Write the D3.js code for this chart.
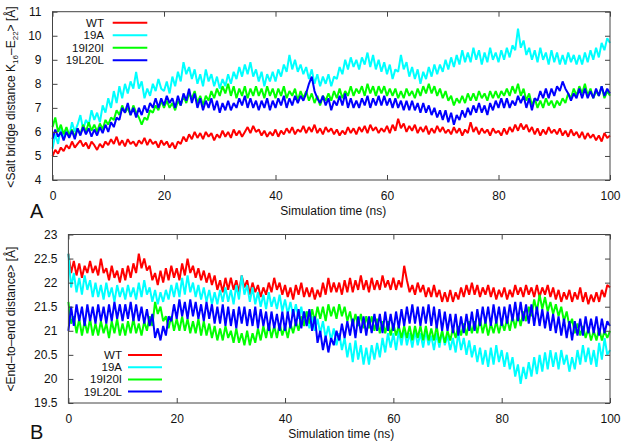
<!DOCTYPE html>
<html><head><meta charset="utf-8">
<script src="https://cdn.jsdelivr.net/npm/d3@7/dist/d3.min.js"></script>
<style>body{margin:0;background:#fff}svg{display:block;font-family:"Liberation Sans",Arial,sans-serif}</style>
</head><body><svg id="c" width="622" height="442"></svg>
<script>
const seriesNames = ["WT","19A","19I20I","19L20L"];
const seriesColors = ["#ff0000","#00ffff","#00ff00","#0000ff"];
const timeNs = d3.range(201).map(i => i / 2);
const xTicks = [0,20,40,60,80,100];
const yTicksA = [4,5,6,7,8,9,10,11];
const yTicksB = [19.5,20,20.5,21,21.5,22,22.5,23];

const saltWT = [5.0,5.25,5.1,5.35,5.2,5.45,5.3,5.6,5.35,5.5,
5.65,5.4,5.55,5.3,5.6,5.45,5.25,5.5,5.35,5.6,
5.45,5.7,5.5,5.8,5.45,5.65,5.4,5.7,5.5,5.6,
5.4,5.65,5.5,5.75,5.45,5.7,5.5,5.6,5.35,5.65,
5.45,5.6,5.35,5.55,5.3,5.6,5.5,5.8,5.6,5.9,
5.7,6.0,5.75,5.95,5.7,6.0,5.8,5.95,5.65,5.9,
5.75,6.05,5.8,6.0,5.75,6.1,5.85,6.05,5.8,6.0,
6.2,5.95,6.25,6.0,6.1,5.85,6.05,5.8,6.0,5.85,
6.1,5.8,6.05,5.9,6.15,5.95,6.2,5.9,6.1,6.0,
6.25,5.95,6.2,6.0,6.3,5.95,6.15,5.9,6.2,6.0,
6.15,5.9,6.1,5.85,6.05,5.9,6.2,5.95,6.15,5.9,
6.2,6.0,6.25,5.95,6.3,6.05,6.2,5.95,6.15,6.0,
6.25,5.95,6.3,6.05,6.55,6.15,6.35,6.0,6.25,6.05,
6.3,5.95,6.2,6.0,6.25,5.9,6.15,5.95,6.25,6.0,
6.2,5.95,6.1,5.9,6.2,5.95,6.15,5.85,6.1,5.95,
6.4,6.0,6.2,5.9,6.15,5.95,6.1,5.85,6.15,5.95,
6.05,5.85,6.15,5.9,6.2,6.0,6.3,6.05,6.35,6.1,
6.3,6.0,6.2,5.9,6.15,5.85,6.1,5.9,6.2,5.95,
6.1,5.9,6.15,5.85,6.05,5.8,6.1,5.85,6.0,5.75,
6.0,5.7,5.95,5.75,5.9,5.65,5.85,5.6,5.95,5.75,5.85];
const salt19A = [5.3,5.9,5.5,6.2,5.7,6.1,5.8,6.4,6.0,6.3,
6.7,6.1,6.5,6.3,6.9,6.5,6.8,6.4,7.1,6.8,
7.4,7.0,7.7,7.2,7.9,7.4,8.0,7.6,8.1,7.8,
8.5,7.8,8.1,7.4,7.8,7.5,8.0,7.7,8.2,7.8,
7.7,8.1,7.6,8.3,7.9,8.5,8.1,8.9,8.4,8.7,
8.2,8.6,8.0,8.4,7.9,8.6,8.1,8.4,7.9,8.3,
7.8,8.2,7.9,8.4,8.0,8.5,8.2,8.7,8.3,8.8,
8.4,8.9,8.3,8.6,8.1,8.5,7.9,8.4,8.1,8.5,
8.1,8.6,8.3,8.8,8.5,9.2,8.6,9.0,8.5,8.8,
8.4,8.7,8.2,8.6,8.0,8.4,7.9,8.3,8.0,8.4,
7.9,8.3,8.2,8.7,8.4,9.0,8.6,9.1,8.7,9.0,
8.6,9.1,8.8,9.3,8.7,9.2,8.6,9.0,8.5,8.9,
8.4,8.8,8.2,8.6,8.5,9.2,8.6,8.9,8.3,8.7,
8.2,8.6,8.0,8.5,8.2,8.7,8.3,8.8,8.4,8.8,
8.5,9.0,8.6,9.1,8.7,9.2,8.8,9.4,8.9,9.3,
8.9,9.5,9.0,9.4,8.8,9.3,8.9,9.5,9.0,9.3,
8.9,9.4,9.0,9.5,9.1,9.6,9.4,10.3,9.5,9.8,
9.2,9.5,9.0,9.4,8.9,9.5,9.0,9.3,8.8,9.4,
8.9,9.3,8.8,9.2,8.8,9.3,8.9,9.2,8.8,9.2,
8.8,9.3,8.9,9.4,9.0,9.5,9.1,9.7,9.4,9.9,9.7];
const salt19I20I = [6.2,6.6,6.0,6.3,5.9,6.2,5.85,6.1,5.8,6.15,
5.9,6.3,6.0,6.4,6.05,6.3,6.0,6.35,6.1,6.5,
6.3,6.6,6.5,6.9,6.7,7.1,6.8,7.0,6.7,7.1,
6.8,6.6,6.3,6.6,6.5,6.9,6.8,7.1,6.9,7.3,
7.0,7.3,7.0,7.2,6.9,7.3,7.1,7.5,7.2,7.6,
7.4,7.7,7.2,7.5,7.1,7.5,7.3,7.7,7.4,7.8,
7.5,7.9,7.6,8.0,7.5,7.9,7.4,7.8,7.5,7.9,
7.4,7.8,7.5,7.9,7.5,7.8,7.4,7.9,7.5,7.8,
7.4,7.8,7.5,7.9,7.4,7.7,7.5,7.8,7.3,7.7,
7.4,7.7,7.3,7.6,7.2,7.5,7.1,7.5,7.3,7.6,
7.3,7.7,7.4,7.8,7.4,7.7,7.5,7.9,7.5,7.8,
7.6,7.9,7.5,8.0,7.6,7.9,7.5,7.9,7.6,7.9,
7.5,7.8,7.5,7.8,7.4,7.7,7.4,7.8,7.5,7.7,
7.4,7.8,7.5,7.9,7.6,8.0,7.6,7.9,7.5,7.8,
7.4,7.7,7.3,7.5,7.1,7.4,7.2,7.5,7.2,7.6,
7.3,7.6,7.3,7.7,7.4,7.6,7.3,7.7,7.4,7.7,
7.4,7.7,7.5,7.8,7.5,7.9,7.6,8.0,7.5,7.8,
7.3,7.6,7.1,7.4,7.0,7.3,7.0,7.4,7.1,7.3,
7.0,7.3,7.1,7.4,7.2,7.6,7.4,7.8,7.5,7.9,
7.6,8.0,7.5,7.8,7.4,7.7,7.5,7.9,7.4,7.7,7.5];
const salt19L20L = [5.7,6.1,5.8,6.0,5.65,6.0,5.75,6.05,5.7,6.15,
5.85,6.2,5.9,6.15,5.8,6.1,5.85,6.2,5.95,6.3,
6.0,6.4,6.2,6.6,6.5,7.0,6.8,7.2,6.7,7.0,
6.6,7.0,6.7,7.1,6.8,7.2,7.0,7.4,7.0,7.4,
7.1,7.5,7.2,7.4,7.0,7.5,7.1,7.6,7.3,7.8,
7.2,7.6,7.0,7.4,6.9,7.3,7.0,7.4,6.9,7.3,
6.8,7.2,6.9,7.3,6.9,7.2,7.0,7.4,7.1,7.5,
7.0,7.4,7.0,7.3,6.9,7.3,7.0,7.4,6.9,7.3,
7.0,7.4,7.1,7.5,7.0,7.4,7.1,7.5,7.2,7.5,
7.3,7.6,8.0,8.3,7.7,7.4,7.2,7.5,7.1,7.4,
6.9,7.3,7.1,7.5,7.1,7.6,7.0,7.4,7.0,7.3,
7.0,7.4,7.1,7.5,7.0,7.4,7.1,7.5,7.1,7.5,
7.1,7.4,7.0,7.4,7.0,7.3,6.9,7.3,6.9,7.3,
6.9,7.2,6.8,7.2,6.8,7.1,6.7,7.0,6.6,6.9,
6.5,6.9,6.4,6.8,6.3,6.7,6.5,6.9,6.6,7.0,
6.7,7.1,6.8,7.2,6.8,7.1,6.7,7.2,6.9,7.3,
7.0,7.4,7.0,7.4,7.0,7.3,7.1,7.5,7.2,7.5,
7.0,7.4,6.9,7.4,7.3,7.7,7.4,7.8,7.4,7.8,
7.5,7.9,7.7,8.1,7.8,7.6,7.3,7.6,7.4,7.8,
7.4,7.8,7.4,7.7,7.4,7.8,7.5,7.9,7.5,7.8,7.6];

const endWT = [22.6,22.2,22.45,22.15,22.4,22.1,22.35,22.2,22.45,22.2,
22.35,22.15,22.5,22.2,22.3,22.05,22.35,22.1,22.25,22.0,
22.3,22.05,22.35,22.1,22.4,22.2,22.6,22.3,22.5,22.25,
22.35,22.05,22.2,21.95,22.25,22.0,22.3,22.05,22.35,22.1,
22.3,22.05,22.4,22.15,22.5,22.2,22.35,22.1,22.3,22.05,
22.25,22.0,22.2,21.95,22.15,21.85,22.05,21.8,22.1,21.85,
22.1,21.85,22.05,21.8,22.15,21.9,22.05,21.75,22.0,21.8,
21.95,21.7,21.9,21.75,22.0,21.8,22.1,21.85,22.0,21.75,
21.95,21.7,21.9,21.65,21.95,21.75,22.0,21.7,21.9,21.7,
21.9,21.65,21.85,21.7,22.0,21.75,22.1,21.8,22.0,21.8,
22.0,21.75,22.05,21.8,22.1,21.8,22.05,21.85,22.15,21.85,
22.05,21.8,22.1,21.85,22.05,21.85,22.15,21.9,22.05,21.85,
22.1,21.85,22.05,21.9,22.35,22.05,21.8,21.95,21.75,22.0,
21.8,21.95,21.7,21.9,21.7,21.95,21.7,21.85,21.6,21.8,
21.6,21.85,21.6,21.8,21.65,21.9,21.7,21.95,21.75,22.0,
21.75,21.95,21.7,21.9,21.75,21.95,21.7,21.9,21.65,21.85,
21.7,21.9,21.65,21.85,21.7,21.95,21.75,21.9,21.7,21.95,
21.75,21.9,21.7,21.95,21.7,21.9,21.75,21.95,21.7,21.9,
21.65,21.85,21.6,21.8,21.65,21.85,21.6,21.8,21.65,21.9,
21.6,21.8,21.55,21.75,21.6,21.8,21.6,21.85,21.7,21.95,21.9];
const end19A = [22.6,21.9,22.2,21.8,22.1,21.75,22.15,21.85,22.05,21.7,
22.0,21.7,21.95,21.65,22.0,21.7,21.9,21.6,21.95,21.7,
21.9,21.65,21.95,21.7,21.9,21.65,22.0,21.7,22.05,21.75,
21.9,21.6,21.85,21.55,21.8,21.6,21.85,21.65,21.95,21.7,
22.0,21.7,22.1,21.75,22.15,21.8,22.0,21.7,21.95,21.65,
21.9,21.6,21.85,21.55,21.8,21.55,21.85,21.6,21.9,21.6,
21.85,21.55,21.95,21.65,22.15,21.75,21.95,21.6,21.9,21.55,
21.8,21.5,21.75,21.45,21.8,21.5,21.7,21.45,21.75,21.4,
21.65,21.35,21.6,21.3,21.55,21.25,21.5,21.15,21.4,21.05,
21.3,21.0,21.25,20.95,21.2,20.85,21.1,20.8,21.05,20.7,
20.95,20.6,20.85,20.45,20.75,20.35,20.8,20.4,20.7,20.3,
20.65,20.3,20.7,20.4,20.75,20.45,20.85,20.55,20.95,20.65,
20.95,20.6,21.0,20.7,21.05,20.7,20.95,20.65,21.0,20.7,
20.95,20.65,21.0,20.7,20.9,20.6,20.95,20.65,21.0,20.7,
20.9,20.6,20.85,20.55,20.95,20.6,20.85,20.5,20.8,20.45,
20.7,20.35,20.65,20.3,20.6,20.25,20.65,20.3,20.7,20.35,
20.6,20.25,20.55,20.2,20.45,20.05,20.3,19.9,20.25,20.0,
20.35,20.05,20.45,20.1,20.5,20.15,20.55,20.2,20.6,20.25,
20.55,20.2,20.6,20.3,20.5,20.15,20.45,20.2,20.6,20.3,
20.7,20.35,20.65,20.3,20.6,20.25,20.75,20.4,20.85,20.5,20.6];
const end19I20I = [21.6,21.15,21.3,20.95,21.25,20.9,21.2,20.95,21.25,20.9,
21.15,20.9,21.2,20.95,21.15,20.85,21.2,20.95,21.25,20.9,
21.15,20.9,21.2,20.95,21.25,20.95,21.15,20.9,21.2,21.0,
21.3,21.1,21.6,21.35,21.5,21.2,21.3,21.05,21.3,21.0,
21.25,21.0,21.3,21.0,21.25,20.95,21.2,20.95,21.25,20.9,
21.2,20.9,21.15,20.85,21.1,20.8,21.05,20.8,21.1,20.85,
21.0,20.75,21.05,20.75,20.95,20.7,21.0,20.7,20.95,20.75,
21.05,20.8,21.1,20.85,21.15,20.85,21.1,20.85,21.15,20.9,
21.1,20.85,21.15,20.95,21.2,21.0,21.3,21.1,21.4,21.15,
21.45,21.2,21.5,21.25,21.5,21.2,21.55,21.3,21.5,21.25,
21.55,21.3,21.5,21.2,21.4,21.1,21.35,21.1,21.35,21.05,
21.3,21.05,21.3,21.0,21.25,20.95,21.2,20.95,21.2,20.9,
21.15,20.9,21.1,20.85,21.1,20.85,21.1,20.8,21.1,20.85,
21.1,20.8,21.1,20.8,21.05,20.8,21.1,20.75,21.0,20.75,
21.0,20.8,21.05,20.85,21.1,20.9,21.15,20.9,21.2,20.95,
21.2,20.95,21.25,20.95,21.2,20.9,21.15,20.95,21.2,20.95,
21.2,21.0,21.25,21.0,21.3,21.05,21.35,21.1,21.4,21.2,
21.5,21.3,21.65,21.4,21.75,21.45,21.7,21.4,21.6,21.35,
21.55,21.3,21.5,21.2,21.4,21.1,21.25,20.95,21.15,20.9,
21.1,20.85,21.05,20.8,21.0,20.8,21.05,20.8,21.0,20.85,21.0];
const end19L20L = [21.0,21.5,21.1,21.55,21.2,21.5,21.1,21.55,21.2,21.5,
21.15,21.55,21.2,21.5,21.15,21.55,21.2,21.6,21.25,21.55,
21.2,21.55,21.25,21.6,21.2,21.55,21.2,21.5,21.15,21.45,
21.1,21.35,20.85,21.05,20.8,21.1,20.9,21.3,21.2,21.55,
21.25,21.65,21.3,21.6,21.25,21.65,21.3,21.6,21.25,21.55,
21.2,21.6,21.25,21.55,21.15,21.5,21.15,21.55,21.1,21.5,
21.1,21.45,21.05,21.5,21.15,21.5,21.1,21.45,21.1,21.5,
21.05,21.45,21.1,21.4,21.0,21.4,21.05,21.35,21.0,21.4,
21.0,21.4,21.05,21.45,21.1,21.45,21.05,21.4,21.1,21.45,
21.0,21.3,20.75,21.0,20.6,20.9,20.55,20.85,20.7,21.0,
20.8,21.15,20.85,21.2,20.9,21.25,20.85,21.3,20.95,21.3,
20.9,21.3,20.95,21.35,21.0,21.35,20.95,21.4,21.0,21.35,
21.0,21.4,21.05,21.45,21.1,21.5,21.15,21.55,21.15,21.5,
21.1,21.5,21.15,21.55,21.1,21.5,21.05,21.45,21.0,21.4,
21.0,21.35,20.95,21.35,20.9,21.3,20.95,21.35,21.0,21.4,
21.0,21.45,21.1,21.5,21.15,21.5,21.1,21.55,21.15,21.5,
21.1,21.5,21.15,21.55,21.2,21.6,21.2,21.6,21.2,21.55,
21.15,21.55,21.1,21.5,21.1,21.45,21.05,21.4,21.0,21.35,
20.95,21.3,20.9,21.25,20.85,21.2,20.8,21.2,20.9,21.25,
20.9,21.3,20.95,21.25,20.95,21.3,20.9,21.25,20.95,21.2,21.1];

const svg = d3.select("#c");
const font = '"Liberation Sans",Arial,sans-serif';

function panel(cfg){
  const x = d3.scaleLinear().domain([0,100]).range([cfg.left, cfg.right]);
  const y = d3.scaleLinear().domain(cfg.yDomain).range([cfg.bottom, cfg.top]);
  const g = svg.append("g");
  const line = d3.line().x((d,i)=>x(timeNs[i])).y(d=>y(d));
  cfg.series.forEach((s,k)=>{
    g.append("path").datum(s).attr("d", line).attr("fill","none")
      .attr("stroke", seriesColors[k]).attr("stroke-width",2).attr("stroke-linejoin","bevel");
  });
  const tl = 5;
  const axB = d3.axisBottom(x).tickValues(xTicks).tickSize(-tl).tickPadding(tl+6).tickFormat(d3.format("d"));
  const axT = d3.axisTop(x).tickValues(xTicks).tickSize(-tl).tickFormat("");
  const axL = d3.axisLeft(y).tickValues(cfg.yTicks).tickSize(-tl).tickPadding(tl+6).tickFormat(cfg.yFmt);
  const axR = d3.axisRight(y).tickValues(cfg.yTicks).tickSize(-tl).tickFormat("");
  const style = a => { a.select(".domain").remove(); a.selectAll("line").attr("stroke","#444");
    a.selectAll("text").attr("font-family",font).attr("font-size",12).attr("fill","#111"); };
  svg.append("g").attr("transform",`translate(0,${cfg.bottom})`).call(axB).call(style);
  svg.append("g").attr("transform",`translate(0,${cfg.top})`).call(axT).call(style);
  svg.append("g").attr("transform",`translate(${cfg.left},0)`).call(axL).call(style);
  svg.append("g").attr("transform",`translate(${cfg.right},0)`).call(axR).call(style);
  svg.append("rect").attr("x",cfg.left).attr("y",cfg.top).attr("width",cfg.right-cfg.left)
    .attr("height",cfg.bottom-cfg.top).attr("fill","none").attr("stroke","#444").attr("stroke-width",1);
  seriesNames.forEach((n,k)=>{
    const ly = cfg.legY + k*cfg.legDy;
    svg.append("text").attr("x",cfg.legTextX).attr("y",ly+4).attr("text-anchor","end")
      .attr("font-family",font).attr("font-size",11.5).attr("fill","#111").text(n);
    svg.append("line").attr("x1",cfg.legX1).attr("x2",cfg.legX2).attr("y1",ly).attr("y2",ly)
      .attr("stroke",seriesColors[k]).attr("stroke-width",2);
  });
  svg.append("text").attr("x",(cfg.left+cfg.right)/2+2).attr("y",cfg.bottom+35).attr("text-anchor","middle")
    .attr("font-family",font).attr("font-size",12).attr("fill","#111").text("Simulation time (ns)");
  svg.append("text").attr("x",cfg.letterX).attr("y",cfg.letterY).attr("font-family",font)
    .attr("font-size",20).attr("fill","#111").text(cfg.letter);
  return {x,y};
}

panel({left:52.5,right:610,top:11.7,bottom:180,yDomain:[4,11],yTicks:yTicksA,yFmt:d3.format("d"),
  series:[saltWT,salt19A,salt19I20I,salt19L20L],
  legY:22.7,legDy:12.5,legTextX:104,legX1:112.7,legX2:147.3,letter:"A",letterX:30,letterY:218});
panel({left:68.4,right:610,top:234.5,bottom:403,yDomain:[19.5,23],yTicks:yTicksB,yFmt:d=>String(d),
  series:[endWT,end19A,end19I20I,end19L20L],
  legY:355,legDy:12.2,legTextX:122,legX1:128,legX2:162,letter:"B",letterX:30,letterY:439});

const la = svg.append("text").attr("transform","translate(15,97) rotate(-90)").attr("text-anchor","middle")
  .attr("font-family",font).attr("font-size",12).attr("fill","#111");
la.append("tspan").text("<Salt bridge distance K");
la.append("tspan").attr("font-size",8).attr("dy",3).text("16");
la.append("tspan").attr("dy",-3).text("\u2013E");
la.append("tspan").attr("font-size",8).attr("dy",3).text("22");
la.append("tspan").attr("dy",-3).text("> [\u00C5]");
svg.append("text").attr("transform","translate(15,319) rotate(-90)").attr("text-anchor","middle")
  .attr("font-family",font).attr("font-size",12).attr("fill","#111").text("<End\u2013to\u2013end distance> [\u00C5]");
</script></body></html>
